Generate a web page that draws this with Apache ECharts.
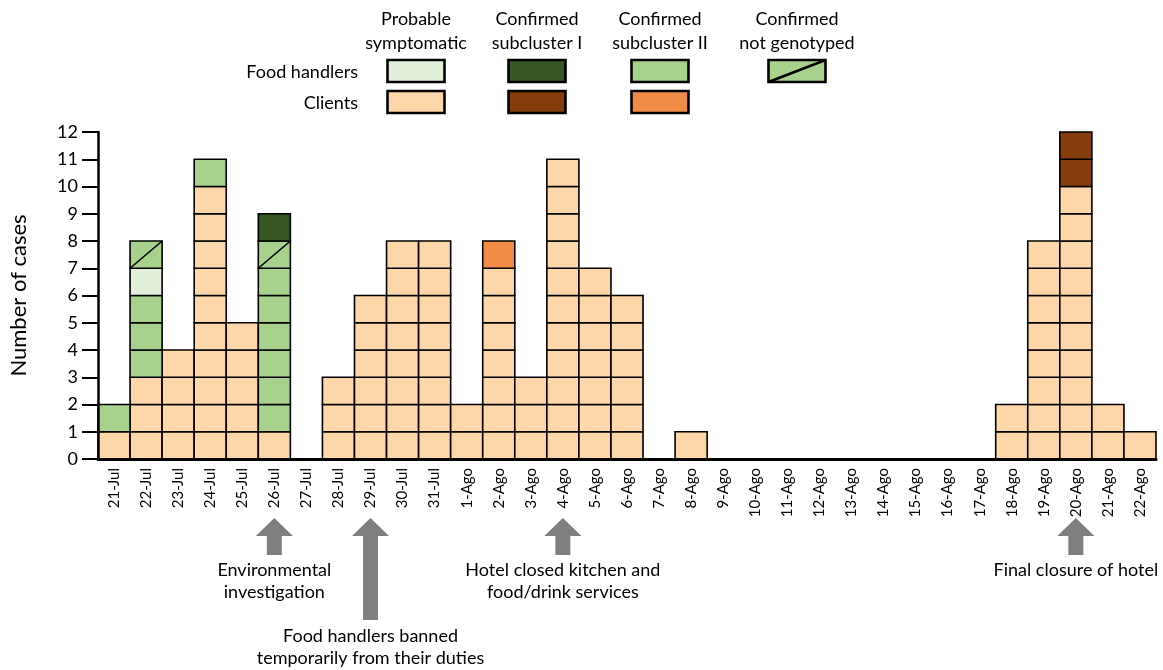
<!DOCTYPE html>
<html>
<head>
<meta charset="utf-8">
<script src="https://cdn.jsdelivr.net/npm/echarts@6/dist/echarts.min.js"></script>
<style>
html,body{margin:0;padding:0;background:#fff;}
#chart{width:1163px;height:670px;}
</style>
</head>
<body>
<div id="chart"></div>
<script>
// ---- Data ----
const categories = ['21-Jul','22-Jul','23-Jul','24-Jul','25-Jul','26-Jul','27-Jul','28-Jul','29-Jul','30-Jul','31-Jul',
  '1-Ago','2-Ago','3-Ago','4-Ago','5-Ago','6-Ago','7-Ago','8-Ago','9-Ago','10-Ago','11-Ago','12-Ago','13-Ago','14-Ago',
  '15-Ago','16-Ago','17-Ago','18-Ago','19-Ago','20-Ago','21-Ago','22-Ago'];
const yTicks = [0,1,2,3,4,5,6,7,8,9,10,11,12];

const clientProbable   = [1,3,4,10,5,1,0,3,6,8,8,2,7,3,11,7,6,0,1,0,0,0,0,0,0,0,0,0,2,8,10,2,1];
const clientSubII      = [0,0,0,0,0,0,0,0,0,0,0,0,1,0,0,0,0,0,0,0,0,0,0,0,0,0,0,0,0,0,0,0,0];
const clientSubI       = [0,0,0,0,0,0,0,0,0,0,0,0,0,0,0,0,0,0,0,0,0,0,0,0,0,0,0,0,0,0,2,0,0];
const fhSubII          = [1,3,0,1,0,6,0,0,0,0,0,0,0,0,0,0,0,0,0,0,0,0,0,0,0,0,0,0,0,0,0,0,0];
const fhProbable       = [0,1,0,0,0,0,0,0,0,0,0,0,0,0,0,0,0,0,0,0,0,0,0,0,0,0,0,0,0,0,0,0,0];
const fhNotGenotyped   = [0,1,0,0,0,1,0,0,0,0,0,0,0,0,0,0,0,0,0,0,0,0,0,0,0,0,0,0,0,0,0,0,0];
const fhSubI           = [0,0,0,0,0,1,0,0,0,0,0,0,0,0,0,0,0,0,0,0,0,0,0,0,0,0,0,0,0,0,0,0,0];

const legendColumns = ['Probable\nsymptomatic','Confirmed\nsubcluster I','Confirmed\nsubcluster II','Confirmed\nnot genotyped'];
const legendRows = ['Food handlers','Clients'];

const annotations = [
  {day:'26-Jul', text:'Environmental\ninvestigation', long:false},
  {day:'29-Jul', text:'Food handlers banned\ntemporarily from their duties', long:true},
  {day:'4-Ago',  text:'Hotel closed kitchen and\nfood/drink services', long:false},
  {day:'20-Ago', text:'Final closure of hotel', long:false}
];

// ---- Styles ----
const C = {
  clientProbable:'#FDD6A9', clientSubI:'#843C0C', clientSubII:'#F08C46',
  fhProbable:'#E2EFDA', fhSubI:'#375623', fhSubII:'#A9D18E', fhNotGenotyped:'#A9D18E'
};
const FONT = 'Lato, "Open Sans", sans-serif';

const stackOrder = [
  ['clientProbable', clientProbable],
  ['clientSubII', clientSubII],
  ['clientSubI', clientSubI],
  ['fhSubII', fhSubII],
  ['fhProbable', fhProbable],
  ['fhNotGenotyped', fhNotGenotyped],
  ['fhSubI', fhSubI]
];

const base = categories.map(() => 0);
const series = stackOrder.map(([key, arr]) => {
  const data = [];
  arr.forEach((v, i) => {
    if (v > 0) { data.push([i, base[i], v]); base[i] += v; }
  });
  const diag = key === 'fhNotGenotyped';
  return {
    type: 'custom',
    name: key,
    data: data,
    encode: {x: 0, y: 1},
    renderItem: function (params, api) {
      const idx = api.value(0), b = api.value(1), n = api.value(2);
      const w = api.size([1, 0])[0];
      const children = [];
      for (let k = 0; k < n; k++) {
        const top = api.coord([idx, b + k + 1]);
        const bot = api.coord([idx, b + k]);
        const x0 = top[0] - w / 2;
        children.push({
          type: 'rect',
          shape: {x: x0, y: top[1], width: w, height: bot[1] - top[1]},
          style: {fill: C[key], stroke: '#000', lineWidth: 1.6}
        });
        if (diag) {
          children.push({
            type: 'line',
            shape: {x1: x0, y1: bot[1], x2: x0 + w, y2: top[1]},
            style: {stroke: '#000', lineWidth: 1.6}
          });
        }
      }
      return {type: 'group', children: children};
    },
    z: 2
  };
});

const chart = echarts.init(document.getElementById('chart'), null, {renderer: 'canvas'});
const option = {
  animation: false,
  backgroundColor: '#fff',
  grid: {left: 96, right: 7, top: 132, bottom: 211},
  xAxis: {
    type: 'category',
    data: categories,
    boundaryGap: true,
    axisLine: {show: true, lineStyle: {color: '#000', width: 3}},
    axisTick: {show: false},
    axisLabel: {rotate: 90, fontSize: 15, color: '#000', fontFamily: FONT, margin: 9, interval: 0},
    z: 5
  },
  yAxis: {
    type: 'value',
    min: 0, max: 12, interval: 1,
    name: 'Number of cases',
    nameLocation: 'middle',
    nameRotate: 90,
    nameGap: 68,
    nameTextStyle: {fontSize: 22, color: '#000', fontFamily: FONT},
    axisLine: {show: true, lineStyle: {color: '#000', width: 2.5}},
    axisTick: {show: true, length: 16, lineStyle: {color: '#000', width: 2}},
    axisLabel: {fontSize: 18, color: '#000', fontFamily: FONT, margin: 20,
      formatter: v => (yTicks.indexOf(v) >= 0 ? String(v) : '')},
    splitLine: {show: false},
    z: 5
  },
  series: series
};
chart.setOption(option);

// ---- Legend (graphic) ----
const g = [];
const colX = [416, 537, 660, 797];
const boxW = 57, boxH = 22;
const rowY = [60, 91];
legendColumns.forEach((t, i) => {
  g.push({type: 'text', x: colX[i], y: 31,
    style: {text: t, fontSize: 18, fontFamily: FONT, fill: '#000', align: 'center', verticalAlign: 'middle', lineHeight: 24}});
});
legendRows.forEach((t, r) => {
  g.push({type: 'text', x: 358, y: rowY[r] + boxH / 2 + 1,
    style: {text: t, fontSize: 18, fontFamily: FONT, fill: '#000', align: 'right', verticalAlign: 'middle'}});
});
const legendBoxes = [
  [0, 0, C.fhProbable, false], [1, 0, C.fhSubI, false], [2, 0, C.fhSubII, false], [3, 0, C.fhNotGenotyped, true],
  [0, 1, C.clientProbable, false], [1, 1, C.clientSubI, false], [2, 1, C.clientSubII, false]
];
legendBoxes.forEach(([c, r, col, d]) => {
  const x0 = colX[c] - boxW / 2, y0 = rowY[r];
  g.push({type: 'rect', shape: {x: x0, y: y0, width: boxW, height: boxH},
    style: {fill: col, stroke: '#000', lineWidth: 2.6}});
  if (d) g.push({type: 'line', shape: {x1: x0, y1: y0 + boxH, x2: x0 + boxW, y2: y0},
    style: {stroke: '#000', lineWidth: 2.6}});
});

// ---- Annotations (arrows + text) ----
annotations.forEach(a => {
  const cx = chart.convertToPixel({xAxisIndex: 0}, a.day);
  const apex = 518, headBase = 536, hw = 18.5, sw = 7.5;
  const bottom = a.long ? 620 : 555;
  g.push({type: 'polygon', shape: {points: [
    [cx, apex], [cx + hw, headBase], [cx + sw, headBase], [cx + sw, bottom],
    [cx - sw, bottom], [cx - sw, headBase], [cx - hw, headBase]]},
    style: {fill: '#7F7F7F'}});
  const ty = a.long ? 647 : (a.text.indexOf('\n') >= 0 ? 581 : 570);
  g.push({type: 'text', x: cx, y: ty,
    style: {text: a.text, fontSize: 18, fontFamily: FONT, fill: '#000', align: 'center', verticalAlign: 'middle', lineHeight: 22}});
});

chart.setOption({graphic: {elements: g}});
</script>
</body>
</html>
